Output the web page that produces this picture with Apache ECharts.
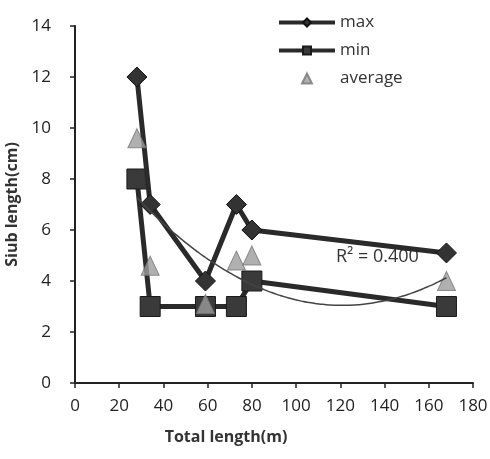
<!DOCTYPE html>
<html>
<head>
<meta charset="utf-8">
<script src="https://cdn.jsdelivr.net/npm/echarts@6/dist/echarts.min.js"></script>
<style>
  html, body { margin: 0; padding: 0; background: #fff; }
  #chart { width: 490px; height: 459px; }
</style>
</head>
<body>
<div id="chart"></div>
<script>
// Total length (m) of each sample
const totalLength = [28, 34, 59, 73, 80, 168];
// Slub length (cm) per sample
const maxSlub = [12, 7, 4, 7, 6, 5.1];
const minSlub = [8, 3, 3, 3, 4, 3];
const avgSlub = [9.6, 4.6, 3.1, 4.8, 5.0, 4.0];
const rSquaredText = 'R² = 0.400';

function pairs(xs, ys) {
  return xs.map((x, i) => [x, ys[i]]);
}

// Second-order least-squares trendline through the average values
function quadFit(xs, ys) {
  const n = xs.length;
  let s = [0, 0, 0, 0, 0], t = [0, 0, 0];
  for (let i = 0; i < n; i++) {
    let p = 1;
    for (let k = 0; k <= 4; k++) { s[k] += p; if (k <= 2) t[k] += p * ys[i]; p *= xs[i]; }
  }
  const A = [[s[0], s[1], s[2], t[0]], [s[1], s[2], s[3], t[1]], [s[2], s[3], s[4], t[2]]];
  for (let c = 0; c < 3; c++) {
    for (let r = c + 1; r < 3; r++) {
      const f = A[r][c] / A[c][c];
      for (let k = c; k < 4; k++) A[r][k] -= f * A[c][k];
    }
  }
  const coef = [0, 0, 0];
  for (let r = 2; r >= 0; r--) {
    let v = A[r][3];
    for (let k = r + 1; k < 3; k++) v -= A[r][k] * coef[k];
    coef[r] = v / A[r][r];
  }
  return coef;
}

const coef = quadFit(totalLength, avgSlub);
const x0 = Math.min(...totalLength), x1 = Math.max(...totalLength);
const trend = [];
for (let i = 0; i <= 80; i++) {
  const x = x0 + (x1 - x0) * i / 80;
  trend.push([x, coef[0] + coef[1] * x + coef[2] * x * x]);
}

const font = '"Open Sans", "Liberation Sans", sans-serif';
const chart = echarts.init(document.getElementById('chart'));
chart.setOption({
  animation: false,
  backgroundColor: '#fff',
  textStyle: { fontFamily: font },
  grid: { left: 75, right: 17, top: 26, bottom: 76, containLabel: false, outerBoundsMode: 'none' },
  legend: {
    orient: 'vertical',
    left: 272,
    top: 9,
    itemWidth: 56,
    itemHeight: 10,
    itemGap: 11,
    symbolKeepAspect: true,
    data: [
      { name: 'max', lineStyle: { width: 4 } },
      { name: 'min', lineStyle: { width: 4 } },
      { name: 'average', icon: 'path://M0,10 L5,0 L10,10 Z' }
    ],
    textStyle: { fontSize: 17, color: '#333', fontFamily: font }
  },
  xAxis: {
    type: 'value',
    min: 0, max: 180, interval: 20,
    name: 'Total length(m)',
    nameLocation: 'middle',
    nameGap: 46,
    nameTextStyle: { fontSize: 16, color: '#333', fontWeight: 'bold', padding: [0, 96, 0, 0] },
    axisLine: { lineStyle: { color: '#222', width: 2 } },
    axisTick: { show: true, length: 5, lineStyle: { color: '#222', width: 1.5 } },
    axisLabel: { fontSize: 17, color: '#222', margin: 15 },
    splitLine: { show: false }
  },
  yAxis: {
    type: 'value',
    min: 0, max: 14, interval: 2,
    name: 'Siub length(cm)',
    nameLocation: 'middle',
    nameGap: 46,
    nameTextStyle: { fontSize: 16, color: '#333', fontWeight: 'bold' },
    axisLine: { show: true, lineStyle: { color: '#222', width: 2 } },
    axisTick: { show: true, length: 5, lineStyle: { color: '#222', width: 1.5 } },
    axisLabel: { fontSize: 17, color: '#222', margin: 24 },
    splitLine: { show: false }
  },
  series: [
    {
      name: 'min',
      type: 'line',
      data: pairs(totalLength, minSlub),
      symbol: 'rect',
      symbolSize: 20,
      itemStyle: { color: '#3a3a3a', borderColor: '#1a1a1a', borderWidth: 1 },
      lineStyle: { color: '#2a2a2a', width: 5 },
      z: 2
    },
    {
      name: 'max',
      type: 'line',
      data: pairs(totalLength, maxSlub),
      symbol: 'diamond',
      symbolSize: 20,
      itemStyle: { color: '#333', borderColor: '#111', borderWidth: 1 },
      lineStyle: { color: '#2a2a2a', width: 5 },
      z: 3
    },
    {
      name: 'average',
      type: 'scatter',
      data: pairs(totalLength, avgSlub),
      symbol: 'triangle',
      symbolSize: [18, 19],
      itemStyle: { color: '#9c9c9c', borderColor: '#777', borderWidth: 1 },
      z: 4
    },
    {
      name: 'trend',
      type: 'line',
      data: trend,
      showSymbol: false,
      symbol: 'none',
      smooth: true,
      lineStyle: { color: '#444', width: 1.5 },
      z: 5
    }
  ],
  graphic: [
    {
      type: 'text',
      left: 336,
      top: 248,
      style: { text: rSquaredText, fontSize: 18, fill: '#333', fontFamily: font }
    }
  ]
});
</script>
</body>
</html>
